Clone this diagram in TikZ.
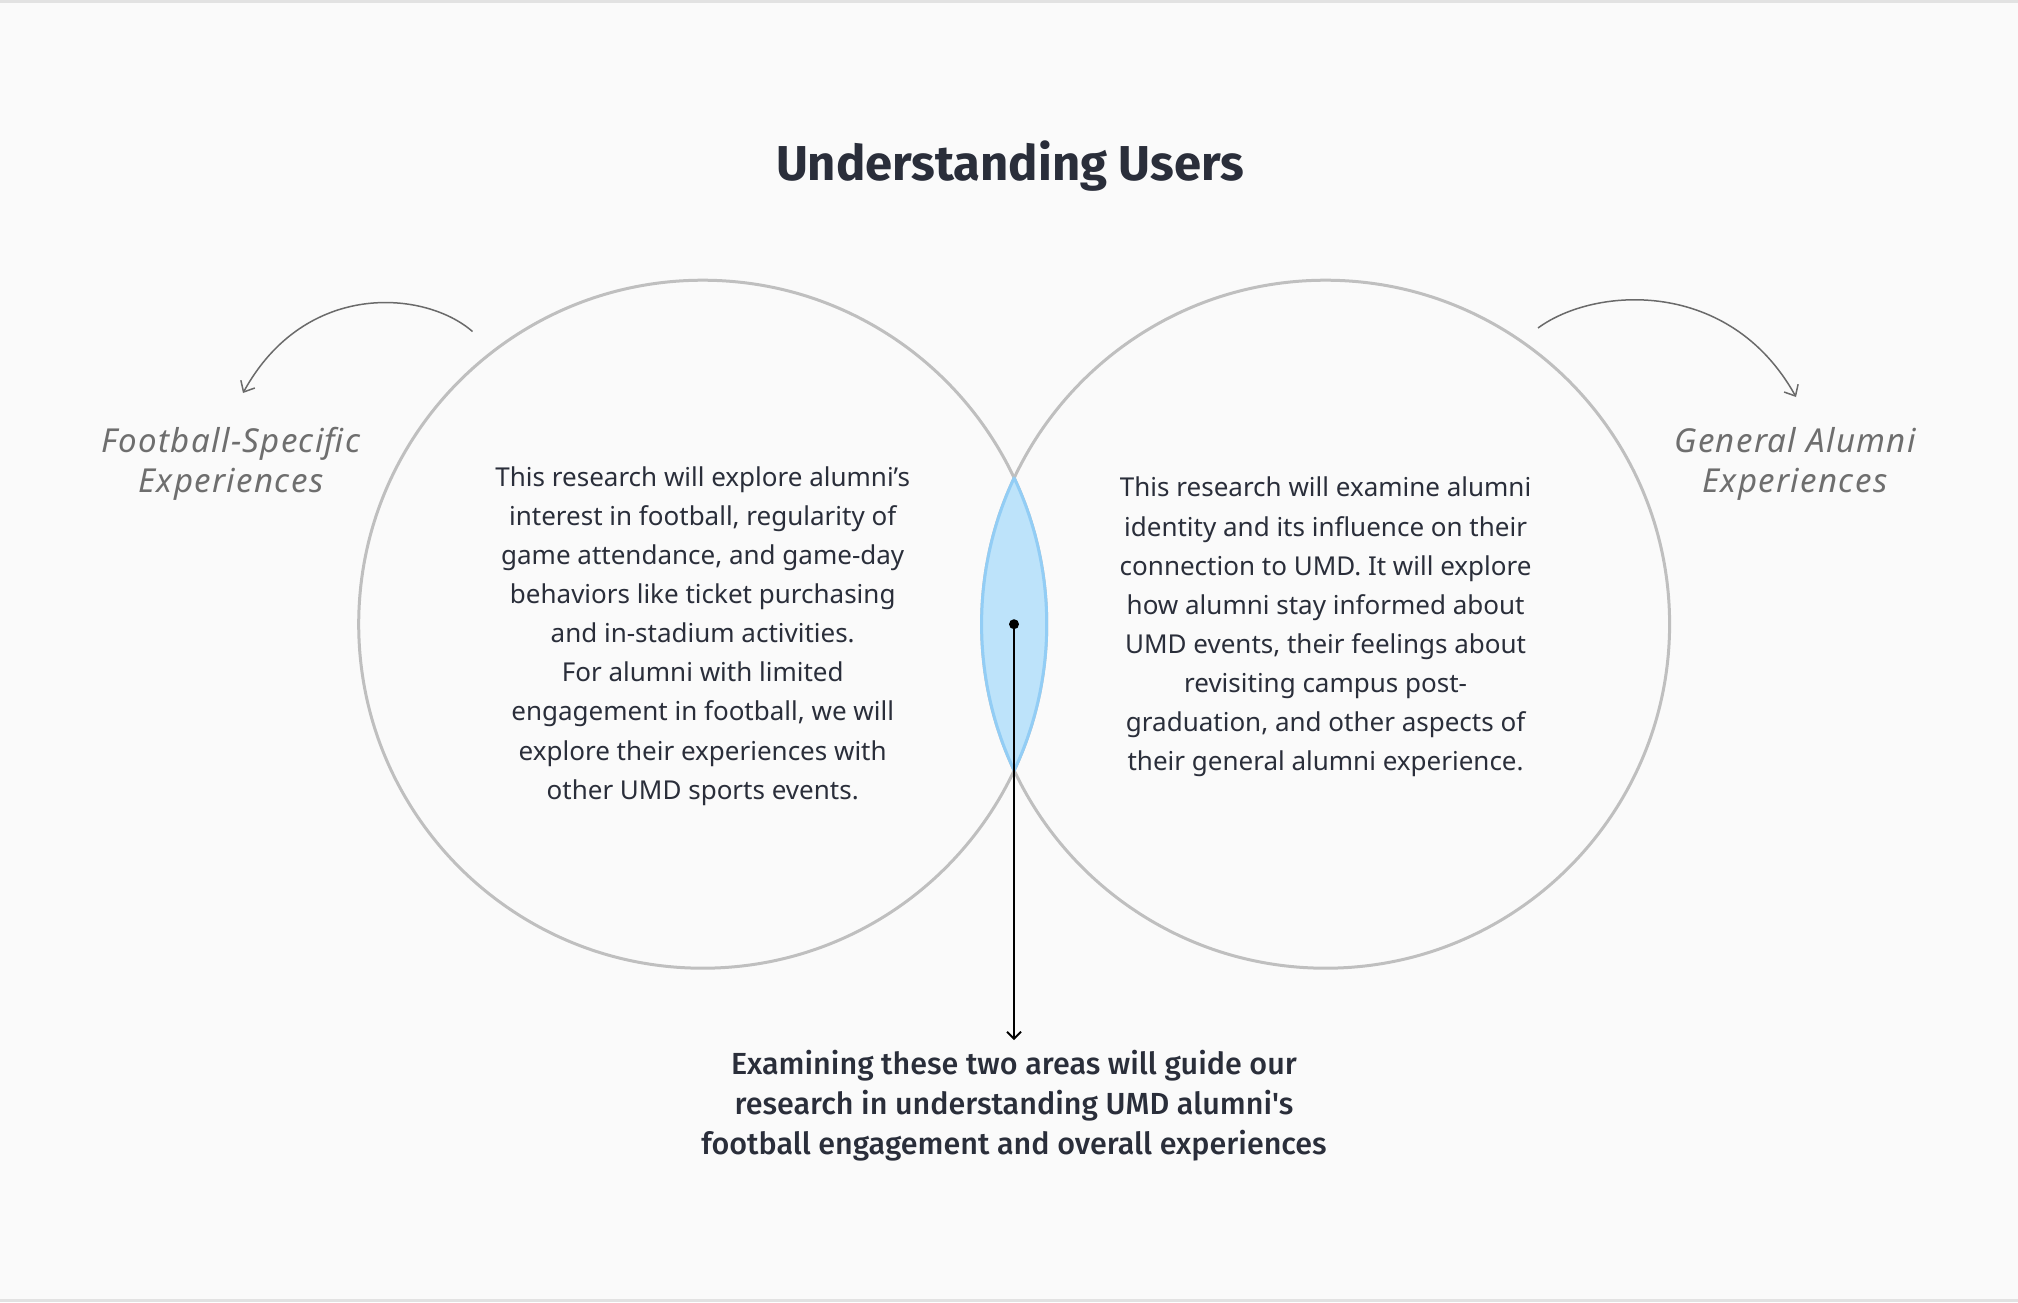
\documentclass[tikz,border=0pt]{standalone}
\usepackage{fontspec}
\setmainfont{Noto Sans}
\newfontfamily\bottomfont{Fira Sans}[UprightFont={* Medium}]
\newfontfamily\titlefont{Fira Sans}[UprightFont={* Bold}]
\newfontfamily\handfont{Noto Sans}[LetterSpace=4]
\usetikzlibrary{arrows.meta}
\definecolor{bgc}{HTML}{FAFAFA}
\definecolor{edgegray}{HTML}{E2E2E2}
\definecolor{circgray}{HTML}{BFBFBF}
\definecolor{lensfill}{HTML}{BDE3FA}
\definecolor{lensedge}{HTML}{92CDF5}
\definecolor{inkdark}{HTML}{2A2E3A}
\definecolor{labgray}{HTML}{6E6E6E}
\definecolor{arrgray}{HTML}{6A6A6A}
\tikzset{
  vcirc/.style={circle, draw=circgray, line width=3pt, minimum size=688pt, inner sep=0pt},
  bodytext/.style={align=center, text=inkdark, font=\fontsize{26}{39.1}\selectfont, inner sep=0pt},
  handlabel/.style={align=center, text=labgray, font=\handfont\fontsize{33}{40}\selectfont\itshape, inner sep=0pt},
  curvearrow/.style={draw=arrgray, line width=1.5pt, -{Straight Barb[length=9pt,width=16pt,line width=1.5pt]}},
}
\begin{document}
\begin{tikzpicture}[x=1pt,y=-1pt]
\useasboundingbox (0,0) rectangle (2018,1302);
\fill[bgc] (0,0) rectangle (2018,1302);
\fill[edgegray] (0,0) rectangle (2018,2.5);
\fill[edgegray] (0,1299) rectangle (2018,1302);

% title
\node[text=inkdark, font=\titlefont\fontsize{49}{52}\selectfont, inner sep=0pt] (title) at (1010,166) {Understanding Users};

% circles
\node[vcirc] (L) at (702.7,624.2) {};
\node[vcirc] (R) at (1325.6,624.2) {};

% lens
\begin{scope}
  \clip (L.center) circle[radius=344pt];
  \fill[lensfill] (R.center) circle[radius=344pt];
  \draw[lensedge, line width=3pt] (R.center) circle[radius=344pt];
\end{scope}
\begin{scope}
  \clip (R.center) circle[radius=344pt];
  \draw[lensedge, line width=3pt] (L.center) circle[radius=344pt];
\end{scope}

% body texts
\node[bodytext] (lt) at (702.7,636) {This research will explore alumni’s\\interest in football, regularity of\\game attendance, and game-day\\behaviors like ticket purchasing\\and in-stadium activities.\\For alumni with limited\\engagement in football, we will\\explore their experiences with\\other UMD sports events.};
\node[bodytext] (rt) at (1325.6,627) {This research will examine alumni\\identity and its influence on their\\connection to UMD. It will explore\\how alumni stay informed about\\UMD events, their feelings about\\revisiting campus post-\\graduation, and other aspects of\\their general alumni experience.};

% handwritten labels
\node[handlabel] (ll) at (231,464) {Football-Specific\\Experiences};
\node[handlabel] (rl) at (1795,464) {General Alumni\\Experiences};

% curved arrows
\coordinate (la) at (472.5,331.5);
\coordinate (lb) at (243,393);
\draw[curvearrow] (la) .. controls (425,290) and (305,280) .. (lb);
\coordinate (ra) at (1538,328);
\coordinate (rb) at (1796,397);
\draw[curvearrow] (ra) .. controls (1595,286) and (1730,278) .. (rb);

% center dot and arrow
\node[circle, fill=black, inner sep=0pt, minimum size=10pt] (dot) at (1014,624.2) {};
\coordinate (tip) at (1014,1040);
\draw[black, line width=1.8pt, -{Straight Barb[length=7pt,width=14pt,line width=1.8pt]}] (dot.center) -- (tip);

% bottom text
\node[align=center, text=inkdark, font=\bottomfont\fontsize{30.5}{40}\selectfont, inner sep=0pt] (bt) at (1014,1105.5) {Examining these two areas will guide our\\research in understanding UMD alumni's\\football engagement and overall experiences};
\end{tikzpicture}
\end{document}
